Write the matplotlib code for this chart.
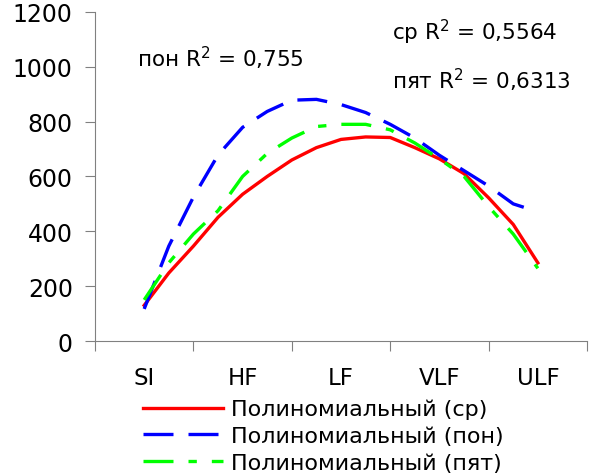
import matplotlib.pyplot as plt
import numpy as np

plt.rcParams['font.family'] = ['DejaVu Sans']

categories = ['SI', 'HF', 'LF', 'VLF', 'ULF']
# positions along the category axis where the trend lines were read (1 = SI ... 5 = ULF)
pos = [1.0, 1.25, 1.5, 1.75, 2.0, 2.25, 2.5, 2.75, 3.0,
       3.25, 3.5, 3.75, 4.0, 4.25, 4.5, 4.75, 5.0]
sr = [130, 248, 346, 451, 535, 600, 660, 705, 735,
      744, 742, 705, 664, 610, 522, 425, 285]
pon = [117, 346, 525, 678, 779, 837, 878, 881, 862,
       833, 790, 740, 677, 621, 565, 500, 471]
pyat = [150, 285, 390, 475, 600, 684, 740, 782, 790,
        790, 770, 722, 664, 600, 490, 390, 265]

labels = ['Полиномиальный (ср)', 'Полиномиальный (пон)', 'Полиномиальный (пят)']

fig = plt.figure(figsize=(5.9, 4.77), dpi=100)
ax = fig.add_axes([0.161, 0.283, 0.834, 0.690])

ax.plot(pos, sr, color='#ff0000', lw=2.4, label=labels[0])
ax.plot(pos, pon, color='#0000ff', lw=2.4, dashes=(9, 4.5), label=labels[1])
ax.plot(pos, pyat, color='#00ff00', lw=2.4, dashes=(9, 4.5, 2.5, 4.5), label=labels[2])

ax.set_xlim(0.5, 5.5)
ax.set_ylim(0, 1200)
ax.set_yticks(np.arange(0, 1201, 200))
ax.set_xticks(np.arange(0.5, 5.6, 1))
ax.set_xticklabels([])
ax.set_xticks(range(1, 6), minor=True)
ax.set_xticklabels(categories, minor=True)
ax.tick_params(axis='x', which='minor', length=0, pad=18, labelsize=16.5)
ax.tick_params(axis='x', which='major', length=7, color='gray', direction='out')
ax.tick_params(axis='y', length=7, color='gray', labelsize=17, pad=9)

for s in ['top', 'right']:
    ax.spines[s].set_visible(False)
for s in ['left', 'bottom']:
    ax.spines[s].set_color('gray')

fig.text(137 / 590, 1 - 58 / 477, 'пон R$^2$ = 0,755', fontsize=15.5, va='center')
fig.text(392 / 590, 1 - 32 / 477, 'ср R$^2$ = 0,5564', fontsize=15.5, va='center')
fig.text(392 / 590, 1 - 80 / 477, 'пят R$^2$ = 0,6313', fontsize=15.5, va='center')

ax.legend(loc='upper left', bbox_to_anchor=(143 / 590, 1 - 400 / 477),
          bbox_transform=fig.transFigure, frameon=False, fontsize=16,
          handlelength=3.6, handletextpad=0.35, labelspacing=0.3,
          borderpad=0, borderaxespad=0)

plt.savefig('out.png', dpi=100)
